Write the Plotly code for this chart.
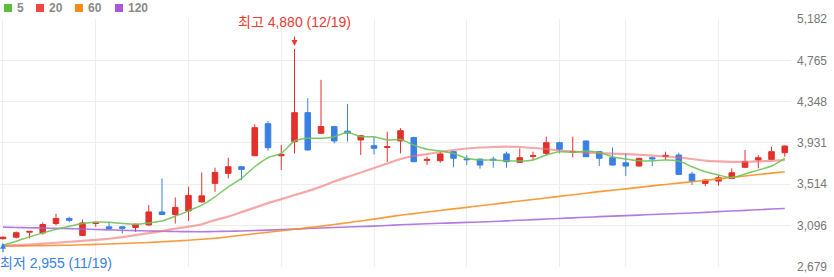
import plotly.graph_objects as go

# ---------------- data ----------------
idx = list(range(60))

open_ = [2965, 2980, 3030, 3023, 3118, 3169, 2997, 3118, 3084, 3084,
         3078, 3104, 3235, 3209, 3245, 3336, 3523, 3624, 3691, 3802,
         4126, 3802, 3944, 4237, 4029, 4096, 4050, 3961, 3903, 3886,
         3951, 3985, 3755, 3752, 3843, 3770, 3768, 3768, 3820, 3735,
         3795, 3826, 3934, 3836, 3951, 3843, 3782, 3731, 3698, 3782,
         3795, 3809, 3617, 3523, 3546, 3573, 3685, 3759, 3765, 3833]
high = [2985, 3037, 3040, 3128, 3215, 3185, 3158, 3135, 3134, 3090,
        3115, 3303, 3573, 3381, 3488, 3634, 3681, 3782, 3695, 4120,
        4153, 3910, 4880, 4383, 4568, 4100, 4325, 4010, 3994, 4045,
        4080, 3994, 3792, 3837, 3850, 3807, 3772, 3792, 3843, 3877,
        3843, 3994, 3944, 3994, 3955, 3850, 3887, 3826, 3780, 3792,
        3843, 3833, 3640, 3566, 3607, 3675, 3860, 3809, 3893, 3903]
low = [2955, 2967, 2967, 3007, 3100, 3132, 2990, 3084, 3065, 3017,
       3033, 3094, 3205, 3118, 3144, 3330, 3438, 3573, 3556, 3800,
       3853, 3658, 3826, 3855, 4025, 3928, 3944, 3810, 3816, 3741,
       3826, 3736, 3708, 3731, 3685, 3708, 3671, 3681, 3681, 3730,
       3759, 3802, 3826, 3786, 3790, 3698, 3705, 3597, 3695, 3698,
       3759, 3607, 3506, 3495, 3499, 3570, 3680, 3675, 3755, 3792]
close = [2980, 3025, 3038, 3108, 3169, 3150, 3124, 3131, 3068, 3070,
         3111, 3235, 3209, 3280, 3401, 3397, 3634, 3691, 3664, 4085,
         3883, 3816, 4237, 3860, 4096, 3951, 4030, 4004, 3877, 3893,
         4055, 3742, 3765, 3820, 3776, 3762, 3708, 3755, 3742, 3782,
         3802, 3934, 3867, 3843, 3792, 3776, 3708, 3698, 3776, 3770,
         3805, 3614, 3546, 3556, 3580, 3630, 3742, 3782, 3843, 3900]

ma5 = [2899, 2939, 2983, 3023, 3060, 3091, 3118, 3131, 3131, 3118,
       3111, 3124, 3144, 3192, 3246, 3303, 3387, 3488, 3573, 3691,
       3782, 3826, 3951, 3978, 3978, 3994, 4039, 3994, 3994, 3961,
       3966, 3910, 3867, 3850, 3826, 3776, 3759, 3759, 3751, 3748,
       3759, 3809, 3843, 3836, 3850, 3834, 3792, 3769, 3751, 3751,
       3759, 3748, 3691, 3640, 3607, 3580, 3617, 3657, 3698, 3776]
ma20 = [2894, 2899, 2906, 2914, 2924, 2934, 2942, 2952, 2964, 2980,
        3000, 3020, 3040, 3066, 3086, 3111, 3152, 3187, 3233, 3278,
        3324, 3364, 3405, 3445, 3490, 3541, 3587, 3632, 3678, 3723,
        3769, 3799, 3819, 3840, 3860, 3875, 3885, 3890, 3893, 3890,
        3880, 3870, 3855, 3845, 3834, 3829, 3824, 3819, 3812, 3804,
        3794, 3784, 3769, 3753, 3745, 3741, 3741, 3745, 3751, 3759]
ma60 = [2889, 2891, 2893, 2895, 2897, 2899, 2903, 2907, 2911, 2916,
        2921, 2927, 2934, 2941, 2949, 2959, 2969, 2985, 3000, 3015,
        3030, 3045, 3060, 3076, 3091, 3108, 3126, 3144, 3162, 3182,
        3202, 3218, 3234, 3250, 3266, 3281, 3297, 3313, 3329, 3345,
        3361, 3376, 3392, 3409, 3424, 3440, 3454, 3468, 3483, 3498,
        3512, 3526, 3540, 3554, 3568, 3584, 3598, 3612, 3626, 3640]
ma120 = [3081, 3078, 3075, 3072, 3069, 3066, 3063, 3058, 3054, 3050,
         3046, 3043, 3040, 3037, 3036, 3035, 3037, 3040, 3043, 3047,
         3051, 3056, 3061, 3067, 3072, 3077, 3082, 3087, 3092, 3098,
         3106, 3111, 3115, 3120, 3124, 3129, 3133, 3138, 3145, 3151,
         3157, 3163, 3169, 3175, 3181, 3187, 3192, 3198, 3203, 3209,
         3214, 3219, 3224, 3230, 3238, 3244, 3251, 3257, 3264, 3270]

y_ticks = [2679, 3096, 3514, 3931, 4348, 4765, 5182]
x_grid = [0, 7, 14, 21, 28, 35, 42, 47, 54]
legend_labels = ["5", "20", "60", "120"]
legend_colors = ["#5bbf3c", "#ee4545", "#f98b1f", "#a55ad6"]

max_i = high.index(max(high))
min_i = low.index(min(low))
max_label = "최고 4,880 (12/19)"
min_label = "최저 2,955 (11/19)"

# ---------------- figure ----------------
fig = go.Figure()

fig.add_trace(go.Candlestick(
    x=idx, open=open_, high=high, low=low, close=close,
    increasing=dict(line=dict(color="#e3302b", width=1), fillcolor="#e3302b"),
    decreasing=dict(line=dict(color="#3a80e4", width=1), fillcolor="#3a80e4"),
    whiskerwidth=0, hoverinfo="skip", showlegend=False,
))

line_styles = [
    (ma120, "rgba(165,100,220,0.85)", 1.6),
    (ma60, "rgba(247,145,35,0.9)", 1.6),
    (ma20, "rgba(240,110,110,0.6)", 2.2),
    (ma5, "rgba(110,195,85,0.9)", 1.5),
]
for vals, col, w in line_styles:
    fig.add_trace(go.Scatter(x=idx, y=vals, mode="lines",
                             line=dict(color=col, width=w, shape="spline", smoothing=0.6),
                             hoverinfo="skip", showlegend=False))

font_family = "Liberation Sans, Arial, Noto Sans CJK KR, sans-serif"

annotations = [
    dict(x=max_i, y=high[max_i], xref="x", yref="y", text=max_label,
         showarrow=False, yshift=27, font=dict(color="#ea3a34", size=14, family=font_family)),
    dict(x=max_i, y=high[max_i], xref="x", yref="y", text="",
         showarrow=True, ax=0, ay=-14, standoff=3, arrowhead=2, arrowsize=1,
         arrowwidth=1.2, arrowcolor="#ea3a34"),
    dict(x=min_i, y=low[min_i], xref="x", yref="y", text=min_label,
         showarrow=False, yshift=-23, xanchor="left", xshift=-5,
         font=dict(color="#3a80e4", size=14, family=font_family)),
    dict(x=min_i, y=low[min_i], xref="x", yref="y", text="",
         showarrow=True, ax=0, ay=14, standoff=3, arrowhead=2, arrowsize=1,
         arrowwidth=1.2, arrowcolor="#3a80e4"),
]

plot_w = 834 - 43
plot_h = 277 - 19 - 10
shapes = []
sq_x = [4, 36, 75, 115]
for lab, col, sx in zip(legend_labels, legend_colors, sq_x):
    shapes.append(dict(type="rect", xref="paper", yref="paper",
                       x0=sx / plot_w, x1=(sx + 8) / plot_w,
                       y0=1 + (19 - 12) / plot_h, y1=1 + (19 - 4) / plot_h,
                       fillcolor=col, line=dict(width=0)))
    annotations.append(dict(x=(sx + 10.5) / plot_w, y=1 + (19 - 8) / plot_h,
                            xref="paper", yref="paper", text="<b>%s</b>" % lab,
                            showarrow=False, xanchor="left", yanchor="middle",
                            font=dict(color="#8a8a8a", size=12, family=font_family)))

fig.update_layout(
    width=834, height=277,
    margin=dict(l=0, r=43, t=19, b=10),
    plot_bgcolor="white", paper_bgcolor="white",
    showlegend=False, boxgap=0.4,
    annotations=annotations, shapes=shapes,
    font=dict(family=font_family),
    xaxis=dict(range=[-0.226, 59.47], tickvals=x_grid, showticklabels=False,
               showgrid=True, gridcolor="#eeeeee", gridwidth=1, zeroline=False,
               showline=False, ticks="", rangeslider=dict(visible=False), fixedrange=True),
    yaxis=dict(range=[y_ticks[0], y_ticks[-1]], tickvals=y_ticks,
               ticktext=[f"{v:,}" for v in y_ticks], side="right",
               showgrid=True, gridcolor="#eeeeee", gridwidth=1, zeroline=False,
               showline=False, ticks="", ticklabelstandoff=5,
               tickfont=dict(size=12, color="#777777", family=font_family), fixedrange=True),
)

fig.write_html("out.html", config={"displayModeBar": False})
